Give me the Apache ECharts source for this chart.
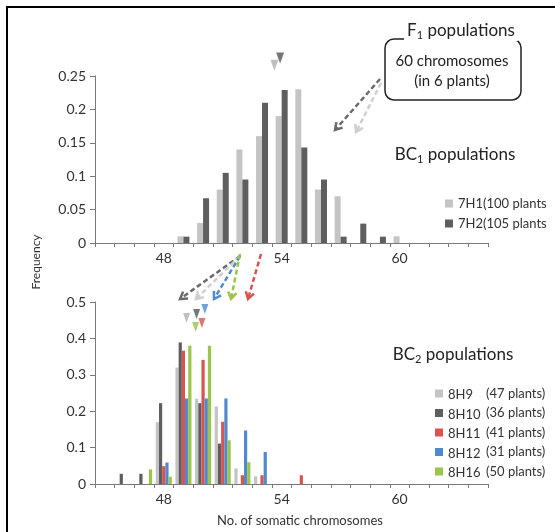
<!DOCTYPE html>
<html>
<head>
<meta charset="utf-8">
<script src="https://cdn.jsdelivr.net/npm/echarts@6/dist/echarts.min.js"></script>
<style>
html,body{margin:0;padding:0;background:#fff;}
#c{width:555px;height:532px;}
</style>
</head>
<body>
<div id="c"></div>
<script>
// ---------- data ----------
const categories = ['45','46','47','48','49','50','51','52','53','54','55','56','57','58','59','60','61','62','63','64'];
const tickLabels = ['48','54','60'];

// BC1 populations (top)
const s7H1 = [0,0,0,0,0.01,0.03,0.08,0.14,0.16,0.19,0.23,0.08,0.07,0,0,0.01,0,0,0,0];
const s7H2 = [0,0,0,0,0.0095,0.067,0.105,0.095,0.21,0.229,0.143,0.095,0.0095,0.029,0.0095,0,0,0,0,0];

// BC2 populations (bottom)
const s8H9  = [0,0,0,0.17,0.32,0.234,0.213,0.043,0.021,0,0,0,0,0,0,0,0,0,0,0];
const s8H10 = [0,0.028,0.028,0.222,0.389,0.222,0.111,0,0,0,0,0,0,0,0,0,0,0,0,0];
const s8H11 = [0,0,0,0.049,0.366,0.341,0.171,0.024,0.024,0,0.024,0,0,0,0,0,0,0,0,0];
const s8H12 = [0,0,0,0.059,0.235,0.235,0.235,0.147,0.088,0,0,0,0,0,0,0,0,0,0,0];
const s8H16 = [0,0,0.04,0.02,0.38,0.38,0.12,0.06,0,0,0,0,0,0,0,0,0,0,0,0];

// mean markers (x = chromosome number, y = frequency level of the marker)
const topMarks7H1 = [[53.63, 0.266]];
const topMarks7H2 = [[53.92, 0.277]];
const botMarks8H9  = [[49.16, 0.456]];
const botMarks8H10 = [[49.67, 0.467]];
const botMarks8H11 = [[49.94, 0.442]];
const botMarks8H12 = [[50.09, 0.481]];
const botMarks8H16 = [[49.62, 0.431]];

const plantCounts = {'8H9':'(47 plants)','8H10':'(36 plants)','8H11':'(41 plants)','8H12':'(31 plants)','8H16':'(50 plants)'};

// ---------- styles ----------
const FONT = 'Lato';
const C_LIGHT = '#c4c4c4', C_DARK = '#5e5e5e', C_RED = '#d9534f', C_BLUE = '#4f8ad0', C_GREEN = '#9bc44a';
const AXIS_C = '#7a7a7a', TXT_C = '#333';

const chart = echarts.init(document.getElementById('c'));

function xCat(gi){
  return {
    type:'category', gridIndex:gi, data:categories, boundaryGap:true,
    axisLine:{lineStyle:{color:AXIS_C, width:1}},
    axisTick:{show:true, interval:0, length:4, lineStyle:{color:AXIS_C}},
    axisLabel:{interval:(i,v)=>tickLabels.indexOf(v)>=0, color:TXT_C, fontFamily:FONT, fontSize:14, margin:8},
    splitLine:{show:false}
  };
}
function xVal(gi){
  return {type:'value', gridIndex:gi, min:44.5, max:64.5, show:false};
}
function yAx(gi, max, itv){
  return {
    type:'value', gridIndex:gi, min:0, max:max, interval:itv,
    axisLine:{show:true, lineStyle:{color:AXIS_C}},
    axisTick:{show:true, length:5, lineStyle:{color:AXIS_C}},
    axisLabel:{color:TXT_C, fontFamily:FONT, fontSize:14, margin:9},
    splitLine:{show:false}
  };
}
function bar(name, data, color, xi, yi, w){
  return {name, type:'bar', data, xAxisIndex:xi, yAxisIndex:yi, barWidth:w, barGap:'0%',
    itemStyle:{color}, emphasis:{disabled:true}, animation:false};
}
function mark(name, data, color, xi, yi, size){
  return {name:name+'_m', type:'scatter', data, xAxisIndex:xi, yAxisIndex:yi, symbol:'triangle',
    symbolRotate:180, symbolSize:size, itemStyle:{color}, clip:false, animation:false, silent:true};
}

function arrow(x1,y1,x2,y2,color){
  const a = Math.atan2(y2-y1, x2-x1), L = 8, sp = 0.55;
  const p1 = [x2 - L*Math.cos(a-sp), y2 - L*Math.sin(a-sp)];
  const p2 = [x2 - L*Math.cos(a+sp), y2 - L*Math.sin(a+sp)];
  return [
    {type:'line', shape:{x1,y1,x2,y2}, style:{stroke:color, lineWidth:2.5, lineDash:[5,3]}, silent:true},
    {type:'polyline', shape:{points:[p1,[x2,y2],p2]}, style:{stroke:color, lineWidth:2.5, fill:null}, silent:true}
  ];
}

const graphics = [
  {type:'rect', shape:{x:7,y:7,width:620,height:620}, style:{fill:null, stroke:'#000', lineWidth:2}, silent:true},
  {type:'rect', shape:{x:385,y:39,width:136,height:61,r:9}, style:{fill:null, stroke:'#222', lineWidth:1.5}, silent:true},
  {type:'text', x:461, y:31, style:{text:'{b|F}{s|1}{b| populations}', align:'center', verticalAlign:'middle',
    backgroundColor:'#fff', padding:[0,3],
    rich:{b:{fontFamily:FONT, fontSize:17, fill:'#222', lineHeight:20}, s:{fontFamily:FONT, fontSize:11, fill:'#222', lineHeight:8, verticalAlign:'bottom'}}}},
  {type:'text', x:452, y:61, style:{text:'60 chromosomes', align:'center', verticalAlign:'middle', fontFamily:FONT, fontSize:15, fill:'#222'}},
  {type:'text', x:452, y:81, style:{text:'(in 6 plants)', align:'center', verticalAlign:'middle', fontFamily:FONT, fontSize:15, fill:'#222'}},
  {type:'text', x:455, y:155, style:{text:'{b|BC}{s|1}{b| populations}', align:'center', verticalAlign:'middle',
    rich:{b:{fontFamily:FONT, fontSize:17, fill:'#222', lineHeight:20}, s:{fontFamily:FONT, fontSize:11, fill:'#222', lineHeight:8, verticalAlign:'bottom'}}}},
  {type:'text', x:453, y:355, style:{text:'{b|BC}{s|2}{b| populations}', align:'center', verticalAlign:'middle',
    rich:{b:{fontFamily:FONT, fontSize:17, fill:'#222', lineHeight:20}, s:{fontFamily:FONT, fontSize:11, fill:'#222', lineHeight:8, verticalAlign:'bottom'}}}},
  {type:'text', x:36, y:262, rotation:Math.PI/2, style:{text:'Frequency', align:'center', verticalAlign:'middle', fontFamily:FONT, fontSize:12, fill:TXT_C}},
  {type:'text', x:300, y:521, style:{text:'No. of somatic chromosomes', align:'center', verticalAlign:'middle', fontFamily:FONT, fontSize:13, fill:TXT_C}},
  ...arrow(380,79,335,130,'#6a6a6a'),
  ...arrow(381,83,356,132,'#cfcfcf'),
  ...arrow(240,256,180,299,'#6a6a6a'),
  ...arrow(240,256,196,299,'#cfcfcf'),
  ...arrow(240,256,214,299,C_BLUE),
  ...arrow(240,254,231,299,C_GREEN),
  ...arrow(261,254,248,299,C_RED)
];

const legendText = {fontFamily:FONT, fontSize:13, color:TXT_C};

chart.setOption({
  animation:false,
  backgroundColor:'#fff',
  grid:[
    {left:95, right:67, top:76, height:167, containLabel:false},
    {left:95, right:67, top:302, height:182, containLabel:false}
  ],
  xAxis:[xCat(0), xCat(1), xVal(0), xVal(1)],
  yAxis:[yAx(0,0.25,0.05), yAx(1,0.5,0.1)],
  legend:[
    {data:['7H1','7H2'], orient:'vertical', left:440, top:192, itemWidth:8, itemHeight:8, itemGap:7,
     icon:'rect', textStyle:legendText,
     formatter:n=> n==='7H1' ? '7H1(100 plants' : '7H2(105 plants', selectedMode:false},
    {data:['8H9','8H10','8H11','8H12','8H16'], orient:'vertical', left:430, top:382, itemWidth:8, itemHeight:8, itemGap:5,
     icon:'rect', selectedMode:false,
     formatter:n=> '{n|'+n+'}{p|'+plantCounts[n]+'}',
     textStyle:{fontFamily:FONT, fontSize:13, color:TXT_C,
       rich:{n:{fontFamily:FONT, fontSize:13, color:TXT_C, width:38, padding:[3,0,0,0]}, p:{fontFamily:FONT, fontSize:13, color:TXT_C}}}}
  ],
  series:[
    bar('7H1', s7H1, C_LIGHT, 0, 0, 6),
    bar('7H2', s7H2, C_DARK, 0, 0, 6),
    bar('8H9', s8H9, C_LIGHT, 1, 1, 3.2),
    bar('8H10', s8H10, C_DARK, 1, 1, 3.2),
    bar('8H11', s8H11, C_RED, 1, 1, 3.2),
    bar('8H12', s8H12, C_BLUE, 1, 1, 3.2),
    bar('8H16', s8H16, C_GREEN, 1, 1, 3.2),
    mark('7H1', topMarks7H1, '#b0b0b0', 2, 0, [8,11]),
    mark('7H2', topMarks7H2, '#555', 2, 0, [8,11]),
    mark('8H9', botMarks8H9, '#b0b0b0', 3, 1, [7,10]),
    mark('8H10', botMarks8H10, '#555', 3, 1, [7,10]),
    mark('8H11', botMarks8H11, C_RED, 3, 1, [7,10]),
    mark('8H12', botMarks8H12, C_BLUE, 3, 1, [7,10]),
    mark('8H16', botMarks8H16, C_GREEN, 3, 1, [7,10])
  ],
  graphic:graphics
});
</script>
</body>
</html>
